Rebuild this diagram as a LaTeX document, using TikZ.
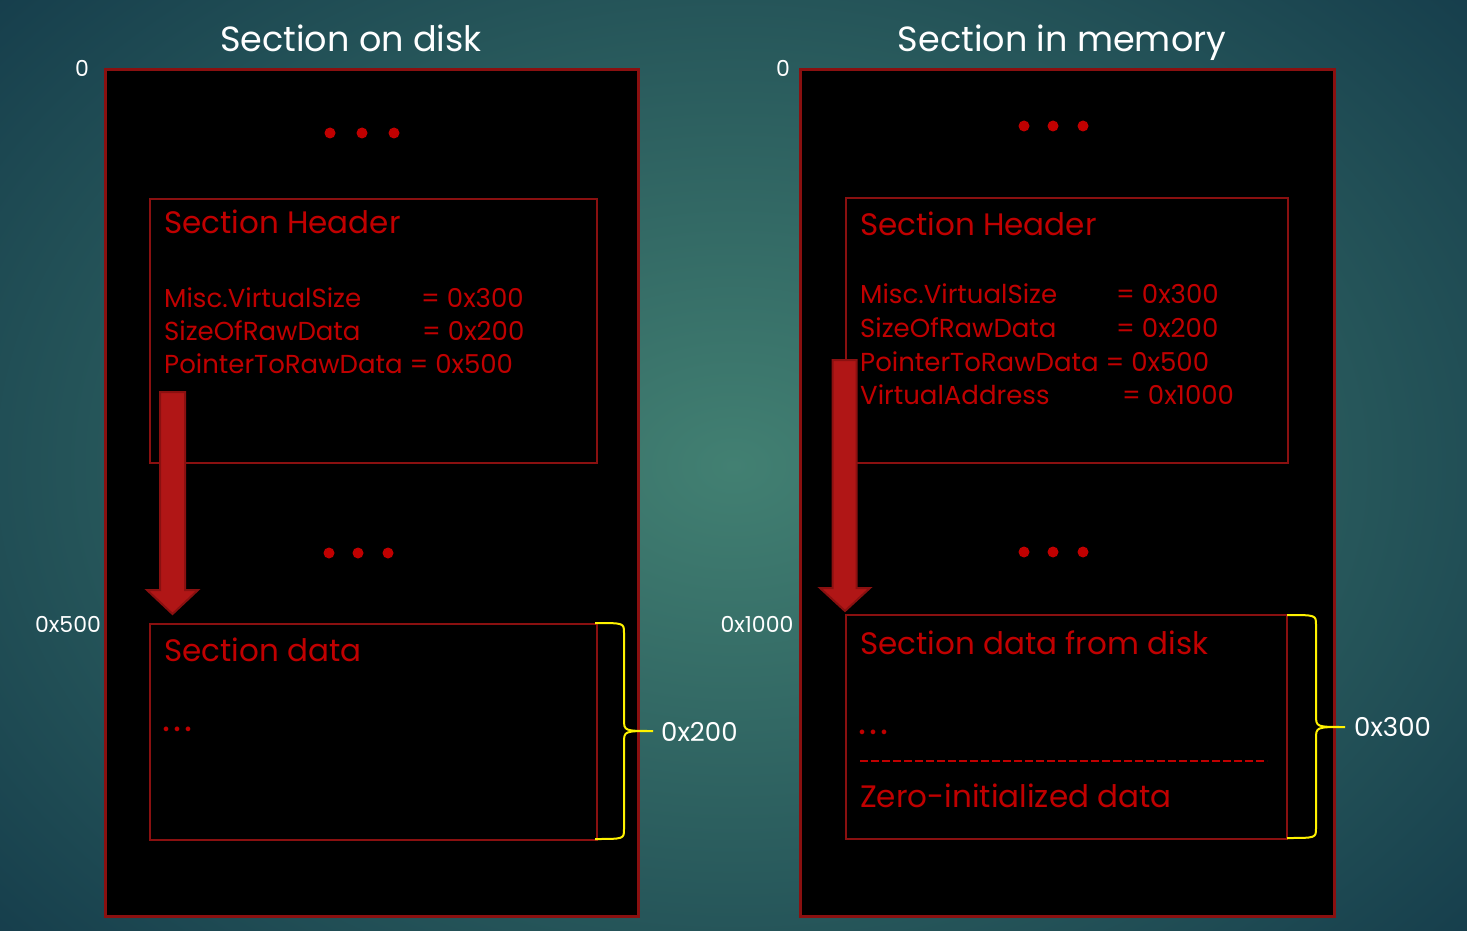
\documentclass[tikz,border=0pt]{standalone}
\usepackage{fontspec}
\setmainfont{Poppins}
\begin{document}
\begin{tikzpicture}[x=1pt,y=-1pt]
\definecolor{bgin}{RGB}{66,128,114}
\definecolor{bgout}{RGB}{22,62,76}
\definecolor{framered}{RGB}{138,16,16}
\definecolor{txtred}{RGB}{192,0,0}
\definecolor{arrowfill}{RGB}{176,22,22}
\tikzset{
  outerbox/.style={draw=framered, line width=3pt, fill=black, inner sep=0pt, anchor=north west},
  innerbox/.style={draw=framered, line width=2.2pt, inner sep=0pt, anchor=north west},
  title/.style={text=white, inner sep=0pt, anchor=base, font=\fontsize{35}{40}\selectfont},
  addr/.style={text=white, inner sep=0pt, font=\fontsize{22}{26}\selectfont},
  headtxt/.style={text=txtred, inner sep=0pt, anchor=base west, font=\fontsize{31}{36}\selectfont},
  fieldtxt/.style={text=txtred, inner sep=0pt, anchor=base west, font=\fontsize{26}{30}\selectfont},
  dotstxt/.style={text=txtred, inner sep=0pt, anchor=base west, font=\fontsize{38}{40}\selectfont},
  sizetxt/.style={text=white, inner sep=0pt, anchor=west, font=\fontsize{26}{30}\selectfont},
  reddot/.style={fill=txtred, draw=none},
  blockarrow/.style={fill=arrowfill, draw=framered, line width=2pt, line join=miter},
  bracestyle/.style={draw=yellow, line width=2pt},
  sepline/.style={draw=txtred, line width=2pt, dash pattern=on 8pt off 3pt}
}
\useasboundingbox (0,0) rectangle (1467,931);
\begin{scope}
\clip (0,0) rectangle (1467,931);
\shade[inner color=bgin, outer color=bgout] (-250,-250) rectangle (1717,1181);
\end{scope}

% titles
\node[title] (t1) at (351,52) {Section on disk};
\node[title] (t2) at (1062,52) {Section in memory};

% outer boxes
\node[outerbox, minimum width=533pt, minimum height=847pt] (disk) at (104,68) {};
\node[outerbox, minimum width=534pt, minimum height=847pt] (mem) at (799,68) {};

% address labels
\node[addr] (a0l) at (82,68) {0};
\node[addr] (a0r) at (783,68) {0};
\node[addr] (a500) at (68,624) {0x500};
\node[addr] (a1000) at (757,624) {0x1000};

% dots
\foreach \x/\y [count=\i] in {330/133,362/133,394/133,329/553,358/553,388/553,1024/126,1053/126,1083/126,1024/552,1053/552,1083/552}
  \fill[reddot] (\x,\y) circle[radius=5.5pt];

% header boxes
\node[innerbox, minimum width=447pt, minimum height=264pt] (hdrL) at (149,198) {};
\node[innerbox, minimum width=442pt, minimum height=265pt] (hdrR) at (845,197) {};

% data boxes
\node[innerbox, minimum width=447pt, minimum height=216pt] (datL) at (149,623) {};
\node[innerbox, minimum width=441pt, minimum height=224pt] (datR) at (845,614) {};

% left header text
\node[headtxt] (hl0) at (164,233) {Section Header};
\node[fieldtxt] (hl1) at (164,307) {Misc.VirtualSize};
\node[fieldtxt] (hl1v) at (421,307) {= 0x300};
\node[fieldtxt] (hl2) at (164,340) {SizeOfRawData};
\node[fieldtxt] (hl2v) at (422,340) {= 0x200};
\node[fieldtxt] (hl3) at (164,373) {PointerToRawData = 0x500};

% right header text
\node[headtxt] (hr0) at (860,235) {Section Header};
\node[fieldtxt] (hr1) at (860,303) {Misc.VirtualSize};
\node[fieldtxt] (hr1v) at (1116,303) {= 0x300};
\node[fieldtxt] (hr2) at (860,337) {SizeOfRawData};
\node[fieldtxt] (hr2v) at (1116,337) {= 0x200};
\node[fieldtxt] (hr3) at (860,371) {PointerToRawData = 0x500};
\node[fieldtxt] (hr4) at (860,404) {VirtualAddress};
\node[fieldtxt] (hr4v) at (1122,404) {= 0x1000};

% left data text
\node[headtxt] (dl0) at (164,661) {Section data};
\node[dotstxt] (dl1) at (162,731) {.\kern3pt.\kern3pt.};

% right data text
\node[headtxt] (dr0) at (860,654) {Section data from disk};
\node[dotstxt] (dr1) at (858,734) {.\kern3pt.\kern3pt.};
\coordinate (sepA) at (860,761);
\coordinate (sepB) at (1267,761);
\draw[sepline] (sepA) -- (sepB);
\node[headtxt] (dr2) at (860,807) {Zero-initialized data};

% block arrows
\draw[blockarrow] (160,392) -- (185,392) -- (185,590) -- (198,590) -- (172.5,614) -- (147,590) -- (160,590) -- cycle;
\draw[blockarrow] (832.5,360) -- (856.5,360) -- (856.5,588) -- (870,588) -- (845,611) -- (820,588) -- (832.5,588) -- cycle;

% braces
\draw[bracestyle] (595,623) .. controls (624,623) .. (624,633) -- (624,719) .. controls (624,731) .. (653,731) .. controls (624,731) .. (624,743) -- (624,829) .. controls (624,839) .. (595,839);
\node[sizetxt] (s200) at (661,732) {0x200};
\draw[bracestyle] (1287,615) .. controls (1316,615) .. (1316,625) -- (1316,715) .. controls (1316,727) .. (1345,727) .. controls (1316,727) .. (1316,739) -- (1316,828) .. controls (1316,838) .. (1287,838);
\node[sizetxt] (s300) at (1354,727) {0x300};
\end{tikzpicture}
\end{document}
